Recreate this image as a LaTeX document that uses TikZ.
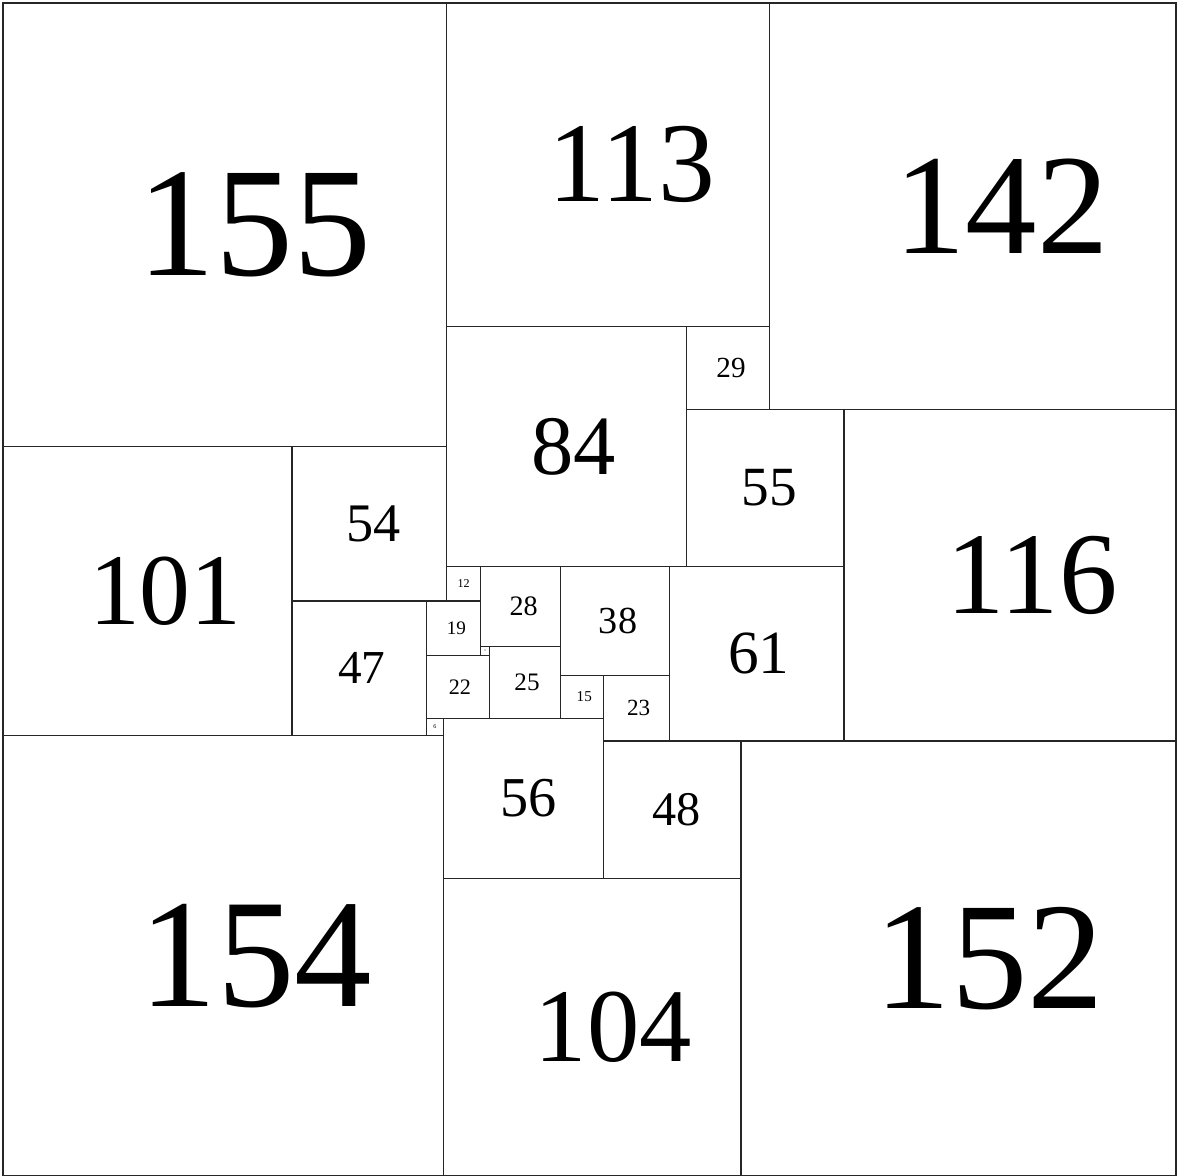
\documentclass[tikz,border=0pt]{standalone}
\usepackage{fontspec}
\setmainfont{Liberation Serif}
\begin{document}
\begin{tikzpicture}[x=1mm, y=-1mm, line width=1.3pt, draw=black!85]
    \useasboundingbox (-1,-1) rectangle (410,410);

    % Squares: left/top/side/label shift
    \foreach \x/\y/\s/\dx in {0/0/155/10.5, 155/0/113/8.4, 268/0/142/10,
        155/113/84/2.4, 239/113/29/1, 239/142/55/1.4, 294/142/116/7.7,
        0/155/101/6.3, 101/155/54/1.7, 101/209/47/1, 0/256/154/11.5,
        233/197/61/0.7, 195/197/38/1, 167/197/28/1, 155/197/12/0,
        148/209/19/1, 148/228/22/0.7, 148/250/6/0, 167/225/3/0,
        170/225/25/0.7, 195/235/15/0.7, 210/235/23/0.7,
        154/250/56/1.7, 210/258/48/1.4, 258/258/152/10.8, 154/306/104/7.3}{
        \pgfmathsetmacro\fs{1.0*\s}
        \draw (\x,\y) rectangle ++(\s,\s);
        \node[font=\fontsize{\fs pt}{\fs pt}\selectfont] (q\s) at (\x+\s/2+\dx, \y+\s/2) {\s};
    }
\end{tikzpicture}
\end{document}
